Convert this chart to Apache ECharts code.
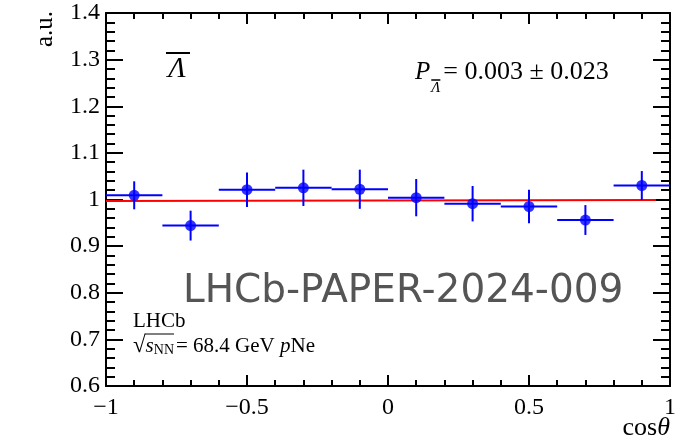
<!DOCTYPE html>
<html>
<head>
<meta charset="utf-8">
<script src="https://cdn.jsdelivr.net/npm/echarts@6/dist/echarts.min.js"></script>
<style>
  html, body { margin: 0; padding: 0; background: #fff; }
  #chart { width: 684px; height: 443px; }
</style>
</head>
<body>
<div id="chart"></div>
<script>
// Angular distribution of anti-Lambda decays, cos(theta) bins
const binCenters = [-0.9, -0.7, -0.5, -0.3, -0.1, 0.1, 0.3, 0.5, 0.7, 0.9];
const binHalfWidth = 0.1;
const yields = [1.009, 0.944, 1.021, 1.025, 1.022, 1.004, 0.991, 0.985, 0.956, 1.030];
const yieldErrors = [0.030, 0.032, 0.037, 0.039, 0.042, 0.040, 0.038, 0.036, 0.032, 0.031];

// Linear fit
const fitX = [-1, 0.95];
const fitY = [0.9968, 0.9990];

// Axis tick labels
const xTickValues = [-1, -0.5, 0, 0.5, 1];
const xTickLabels = ['\u22121', '\u22120.5', '0', '0.5', '1'];
const yTickValues = [0.6, 0.7, 0.8, 0.9, 1.0, 1.1, 1.2, 1.3, 1.4];
const yTickLabels = ['0.6', '0.7', '0.8', '0.9', '1', '1.1', '1.2', '1.3', '1.4'];

const SERIF = '"Liberation Serif", "Times New Roman", serif';
const BLUE = '#0000ff';
const RED = '#ff0000';

function lookup(values, labels, v) {
  for (let i = 0; i < values.length; i++) {
    if (Math.abs(values[i] - v) < 1e-6) return labels[i];
  }
  return '';
}

const measureCtx = document.createElement('canvas').getContext('2d');
function fontOf(p) {
  return (p.italic ? 'italic ' : '') + p.size + 'px ' + (p.family || SERIF);
}
function textWidth(p) {
  measureCtx.font = fontOf(p);
  return measureCtx.measureText(p.t).width;
}
// Lays out a run of text pieces left to right, returns elements and x positions
function textRun(x, y, parts) {
  const els = [];
  const xs = [];
  let cx = x;
  parts.forEach(p => {
    xs.push(cx);
    els.push({
      type: 'text', x: cx, y: y + (p.dy || 0), z: 100,
      style: {
        text: p.t, font: fontOf(p), fill: p.color || '#000',
        align: 'left', verticalAlign: 'middle',
        textAlign: 'left', textVerticalAlign: 'middle'
      }
    });
    cx += textWidth(p) + (p.gap || 0);
  });
  xs.push(cx);
  return { els, xs };
}

const axisLineStyle = { color: '#000', width: 2 };

function makeX(pos, showLabels) {
  return {
    type: 'value', position: pos, min: -1, max: 1, interval: 0.5,
    axisLine: { show: true, onZero: false, lineStyle: axisLineStyle },
    axisTick: { show: true, inside: true, length: 11, lineStyle: { color: '#000', width: 2 } },
    minorTick: { show: true, splitNumber: 5, length: 6, lineStyle: { color: '#000', width: 2 } },
    splitLine: { show: false },
    minorSplitLine: { show: false },
    axisLabel: {
      show: showLabels, margin: 10, color: '#000', fontFamily: SERIF, fontSize: 24,
      formatter: v => lookup(xTickValues, xTickLabels, v)
    }
  };
}
function makeY(pos, showLabels) {
  return {
    type: 'value', position: pos, min: 0.6, max: 1.4, interval: 0.1,
    axisLine: { show: true, onZero: false, lineStyle: axisLineStyle },
    axisTick: { show: true, inside: true, length: 17, lineStyle: { color: '#000', width: 2 } },
    minorTick: { show: true, splitNumber: 5, length: 9, lineStyle: { color: '#000', width: 2 } },
    splitLine: { show: false },
    minorSplitLine: { show: false },
    axisLabel: {
      show: showLabels, margin: 6, color: '#000', fontFamily: SERIF, fontSize: 24,
      formatter: v => lookup(yTickValues, yTickLabels, v)
    }
  };
}

const points = binCenters.map((x, i) => [x, yields[i], yieldErrors[i]]);
const fitData = fitX.map((x, i) => [x, fitY[i]]);

// Annotation text
const graphics = [];

// y-axis title, rotated
graphics.push({
  type: 'text', x: 45, y: 11, rotation: Math.PI / 2, z: 100,
  style: {
    text: 'a.u.', font: '25px ' + SERIF, fill: '#000',
    align: 'right', verticalAlign: 'middle', textAlign: 'right', textVerticalAlign: 'middle'
  }
});

// x-axis title
const cosParts = [{ t: 'cos', size: 26 }, { t: '\u03b8', size: 26, italic: true }];
const cosRun = textRun(0, 0, cosParts);
const cosW = cosRun.xs[cosRun.xs.length - 1];
textRun(670 - cosW, 428, cosParts).els.forEach(e => graphics.push(e));

// Particle label
graphics.push({
  type: 'text', x: 177, y: 69, z: 100,
  style: {
    text: '\u039b', font: 'italic 29px ' + SERIF, fill: '#000',
    align: 'center', verticalAlign: 'middle', textAlign: 'center', textVerticalAlign: 'middle'
  }
});
graphics.push({ type: 'line', z: 100, shape: { x1: 166, y1: 53, x2: 190, y2: 53 }, style: { stroke: '#000', lineWidth: 2 } });

// Polarisation result
const pRun = textRun(415, 72, [
  { t: 'P', size: 25, italic: true, gap: 1 },
  { t: '\u039b', size: 15, italic: true, dy: 16, gap: 3 },
  { t: '= 0.003 \u00b1 0.023', size: 26 }
]);
pRun.els.forEach(e => graphics.push(e));
graphics.push({ type: 'line', z: 100, shape: { x1: pRun.xs[1], y1: 80, x2: pRun.xs[2] - 3, y2: 80 }, style: { stroke: '#000', lineWidth: 1.5 } });

// Experiment label
textRun(133, 321, [{ t: 'LHCb', size: 21 }]).els.forEach(e => graphics.push(e));
const sRun = textRun(133, 346, [
  { t: '\u221a', size: 23 },
  { t: 's', size: 21, italic: true },
  { t: 'NN', size: 14, dy: 4, gap: 2 },
  { t: '= 68.4 GeV ', size: 21 },
  { t: 'p', size: 21, italic: true },
  { t: 'Ne', size: 21 }
]);
sRun.els.forEach(e => graphics.push(e));
graphics.push({ type: 'line', z: 100, shape: { x1: sRun.xs[1] - 1, y1: 334, x2: sRun.xs[3] - 2, y2: 334 }, style: { stroke: '#000', lineWidth: 1 } });

// Paper reference
graphics.push({
  type: 'text', x: 183, y: 292, z: 100,
  style: {
    text: 'LHCb-PAPER-2024-009', font: '39px "DejaVu Sans", sans-serif', fill: '#555555',
    align: 'left', verticalAlign: 'middle', textAlign: 'left', textVerticalAlign: 'middle'
  }
});

const chart = echarts.init(document.getElementById('chart'), null, { renderer: 'canvas' });
chart.setOption({
  animation: false,
  backgroundColor: '#ffffff',
  grid: { left: 106, right: 14, top: 13, bottom: 57, containLabel: false },
  xAxis: [makeX('bottom', true), makeX('top', false)],
  yAxis: [makeY('left', true), makeY('right', false)],
  series: [
    {
      type: 'line', xAxisIndex: 0, yAxisIndex: 0, data: fitData,
      showSymbol: false, symbol: 'none',
      lineStyle: { color: RED, width: 2 }, z: 3
    },
    {
      type: 'custom', xAxisIndex: 0, yAxisIndex: 0, data: points, z: 4,
      clip: true,
      renderItem: function (params, api) {
        const x = api.value(0), y = api.value(1), e = api.value(2);
        const l = api.coord([x - binHalfWidth, y]);
        const r = api.coord([x + binHalfWidth, y]);
        const t = api.coord([x, y + e]);
        const b = api.coord([x, y - e]);
        const st = { stroke: BLUE, lineWidth: 2 };
        return {
          type: 'group',
          children: [
            { type: 'line', shape: { x1: l[0], y1: l[1], x2: r[0], y2: r[1] }, style: st },
            { type: 'line', shape: { x1: t[0], y1: t[1], x2: b[0], y2: b[1] }, style: st }
          ]
        };
      }
    },
    {
      type: 'scatter', xAxisIndex: 0, yAxisIndex: 0,
      data: points.map(p => [p[0], p[1]]),
      symbol: 'circle', symbolSize: 11,
      itemStyle: { color: BLUE }, z: 5
    }
  ],
  graphic: graphics
});
</script>
</body>
</html>
